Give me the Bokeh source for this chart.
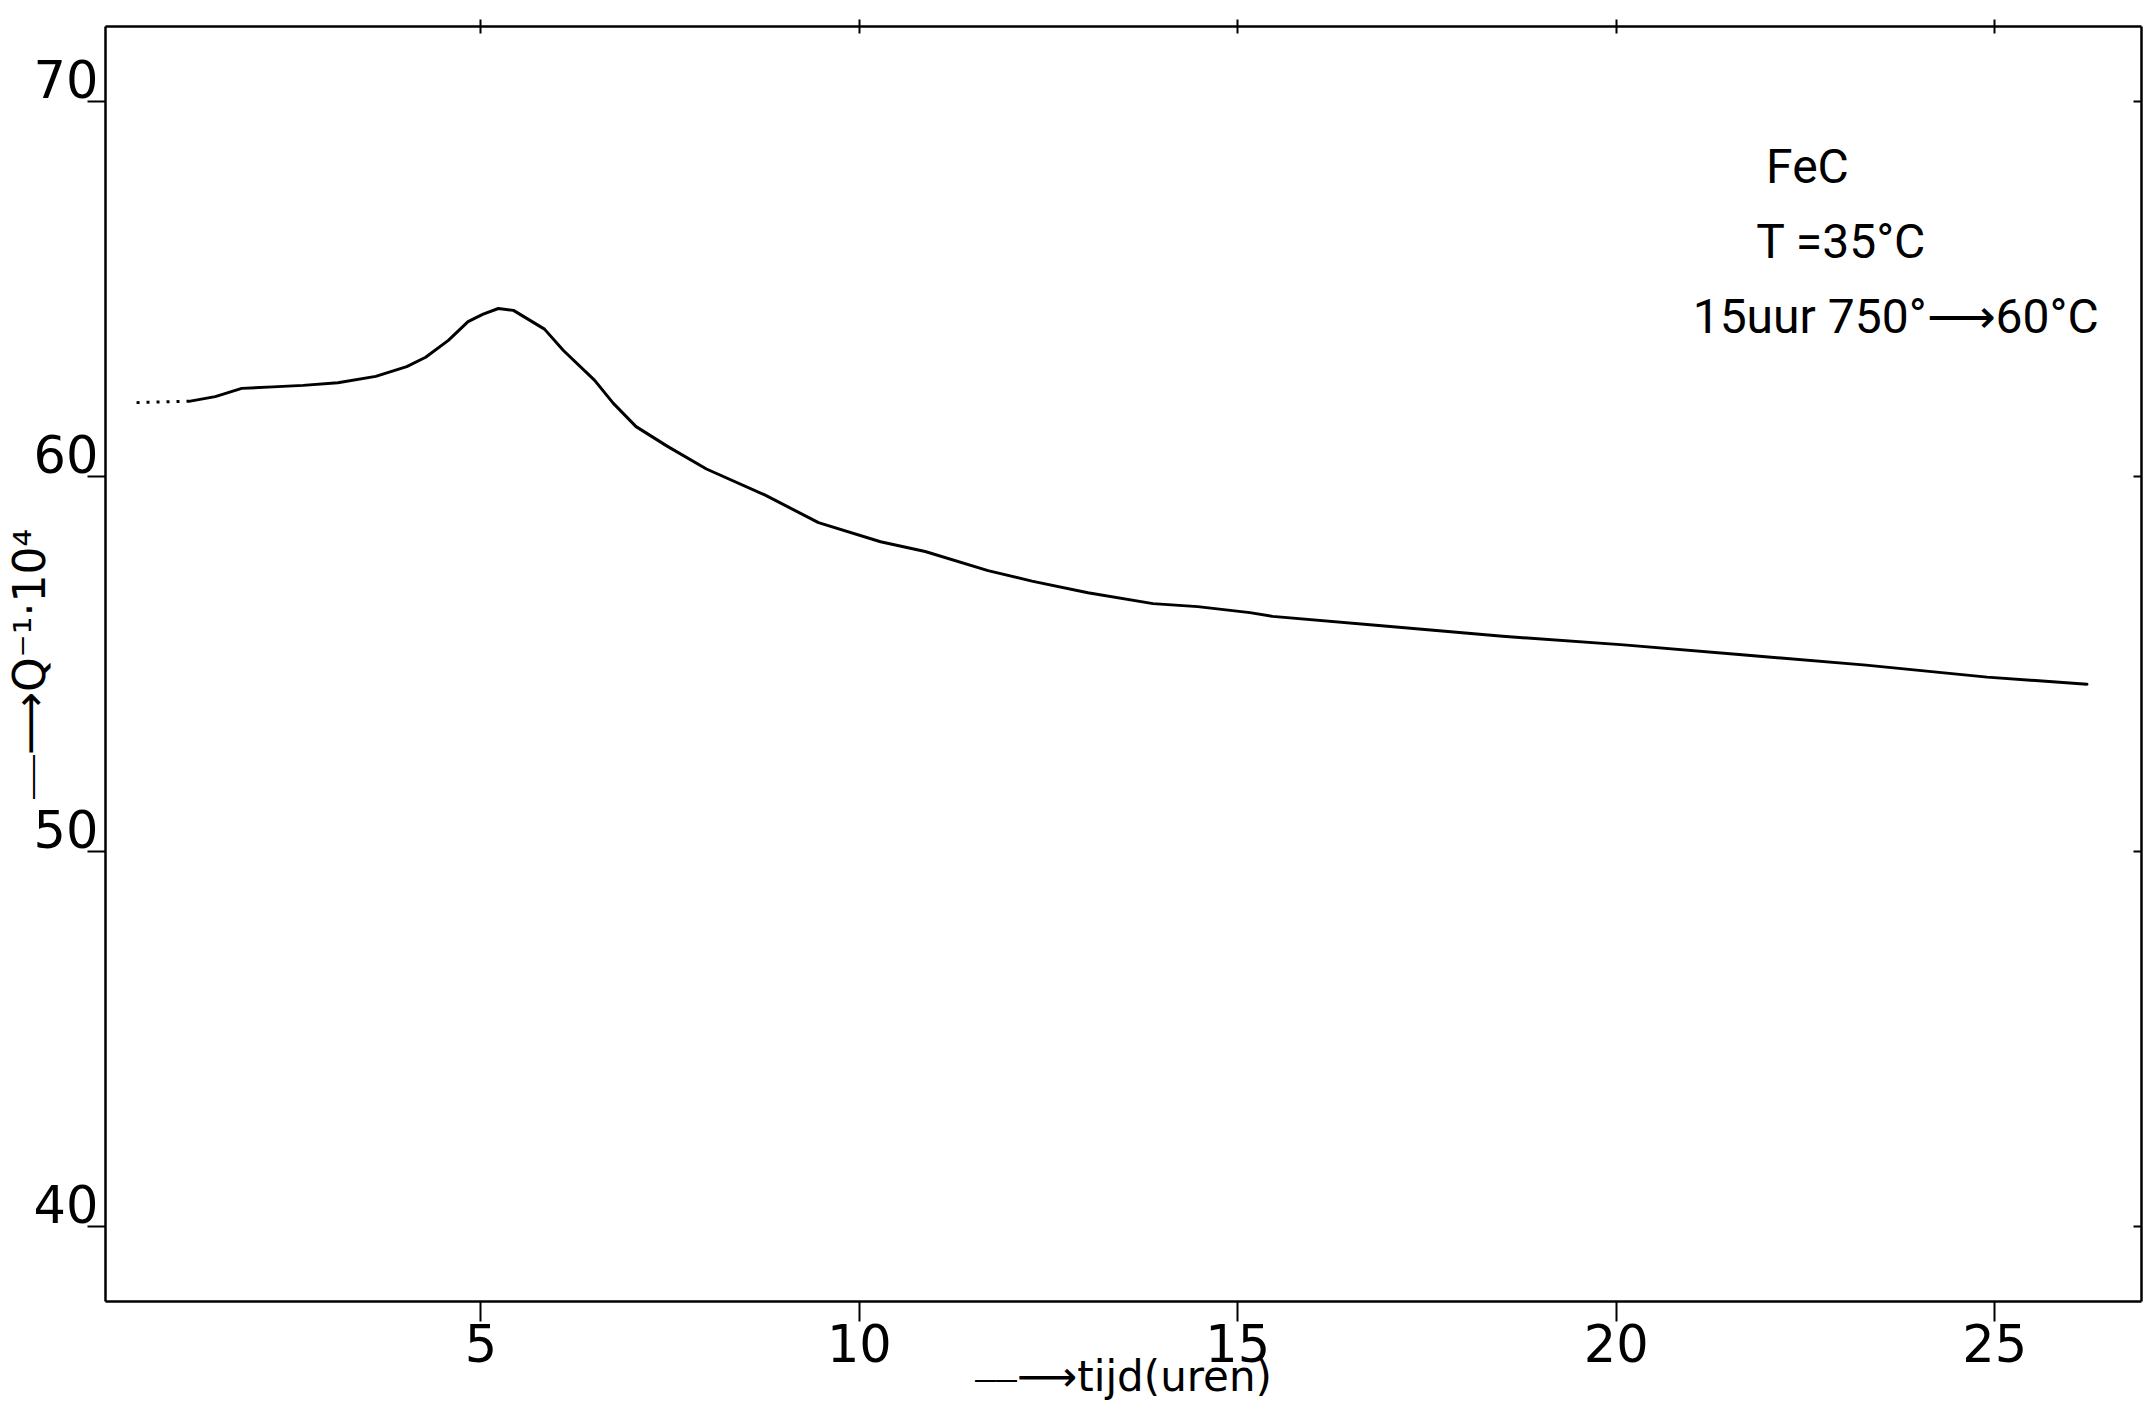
from bokeh.plotting import figure
from bokeh.models import Range1d, LinearAxis, FixedTicker, Label, PrintfTickFormatter
from bokeh.embed import file_html
from bokeh.resources import INLINE

# Q^-1 * 10^4 of FeC at T = 35 C, after 15 h at 750 C quenched to 60 C
hours = [1.16, 1.49, 1.84, 2.25, 2.65, 3.11, 3.61, 4.02, 4.27, 4.57, 4.83,
         5.03, 5.23, 5.43, 5.84, 6.09, 6.50, 6.75, 7.05, 7.46, 7.98, 8.75,
         9.46, 10.28, 10.87, 11.70, 12.28, 13.02, 13.88, 14.47, 15.16, 15.46,
         16.90, 18.50, 20.10, 21.70, 23.30, 24.90, 26.22]
q_1e4 = [62.01, 62.13, 62.35, 62.39, 62.43, 62.50, 62.67, 62.93, 63.18, 63.63,
         64.13, 64.33, 64.48, 64.43, 63.93, 63.36, 62.57, 61.95, 61.33, 60.81,
         60.20, 59.51, 58.77, 58.26, 58.00, 57.49, 57.21, 56.90, 56.61, 56.53,
         56.37, 56.27, 56.02, 55.74, 55.51, 55.24, 54.97, 54.65, 54.46]

# extrapolated start of the curve (dotted)
lead_hours = [0.45, 1.16]
lead_q = [61.97, 62.01]

x_ticks = [5, 10, 15, 20, 25]
y_ticks = [40, 50, 60, 70]

X0, X1 = 0.04, 26.94
Y0, Y1 = 38, 72

TICK_FONT = "DejaVu Sans"
TEXT_FONT = "Roboto"
TITLE_FONT = "DejaVu Sans"

p = figure(width=2149, height=1410, output_backend="svg", toolbar_location=None,
           x_range=Range1d(X0, X1), y_range=Range1d(Y0, Y1),
           min_border_left=105, min_border_right=8,
           min_border_top=26, min_border_bottom=109)
p.grid.visible = False
p.outline_line_color = None
p.background_fill_color = "white"
p.border_fill_color = "white"

AX_W = 2.5

# bottom axis with hour labels
xa = p.xaxis[0]
xa.ticker = FixedTicker(ticks=x_ticks)
xa.major_tick_out = 20
xa.major_tick_in = 0
xa.minor_tick_line_color = None
xa.axis_line_width = AX_W
xa.major_tick_line_width = 2
xa.major_label_text_font = TICK_FONT
xa.major_label_text_font_size = "51px"
xa.major_label_text_color = "black"
xa.major_label_standoff = 2
xa.axis_label = "⎯⎯⟶tijd(uren)"
xa.axis_label_text_font = TITLE_FONT
xa.axis_label_text_font_size = "42px"
xa.axis_label_text_font_style = "normal"
xa.axis_label_text_color = "black"
xa.axis_label_standoff = -13

# left axis: tick marks at the values, numbers sitting just above each mark
LABEL_LIFT = 0.61
ya = p.yaxis[0]
ya.ticker = FixedTicker(ticks=[v + LABEL_LIFT for v in y_ticks], minor_ticks=y_ticks)
ya.formatter = PrintfTickFormatter(format="%d")
ya.major_tick_line_color = None
ya.major_tick_out = 0
ya.major_tick_in = 0
ya.minor_tick_out = 18
ya.minor_tick_in = 0
ya.minor_tick_line_width = 2
ya.minor_tick_line_color = "black"
ya.axis_line_width = AX_W
ya.major_label_text_font = TICK_FONT
ya.major_label_text_font_size = "51px"
ya.major_label_text_color = "black"
ya.major_label_standoff = -11
ya.axis_label = "⎯⎯⟶Q⁻¹·10⁴"
ya.axis_label_text_font = TITLE_FONT
ya.axis_label_text_font_size = "44px"
ya.axis_label_text_font_style = "normal"
ya.axis_label_text_color = "black"
ya.axis_label_standoff = -24

# frame on top and right
top = LinearAxis(ticker=FixedTicker(ticks=x_ticks), major_tick_in=7, major_tick_out=7,
                 minor_tick_line_color=None, axis_line_width=AX_W, major_tick_line_width=2,
                 major_label_text_color=None, major_label_text_font_size="0px",
                 major_label_standoff=0)
p.add_layout(top, "above")
right = LinearAxis(ticker=FixedTicker(ticks=y_ticks), major_tick_in=8, major_tick_out=0,
                   minor_tick_line_color=None, axis_line_width=AX_W, major_tick_line_width=2,
                   major_label_text_color=None, major_label_text_font_size="0px",
                   major_label_standoff=0)
p.add_layout(right, "right")

# curve
p.line(lead_hours, lead_q, line_width=3, line_color="black", line_dash="3 7")
p.line(hours, q_1e4, line_width=3, line_color="black", line_join="round", line_cap="round")

# sample description
for txt, tx, ty in [("FeC", 21.98, 68.27),
                    ("T =35°C", 21.85, 66.27),
                    ("15uur 750°⟶60°C", 21.01, 64.27)]:
    p.add_layout(Label(x=tx, y=ty, text=txt, text_align="left", text_baseline="alphabetic",
                       text_font=TEXT_FONT, text_font_size="48px", text_color="black"))

open("out.html", "w").write(file_html(p, INLINE))
